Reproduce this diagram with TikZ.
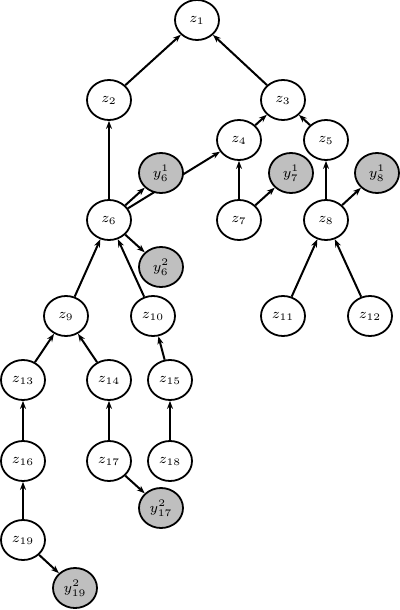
\documentclass[tikz,border=0pt]{standalone}
\usetikzlibrary{shapes.geometric,arrows.meta}
\pgfdeclarelayer{bg}
\pgfsetlayers{bg,main}
\begin{document}
\begin{tikzpicture}[x=0.5pt,y=-0.5pt,
  hid/.style={ellipse,draw,line width=0.9pt,fill=white,minimum width=22pt,minimum height=20pt,inner sep=0pt,font=\fontsize{7}{8}\selectfont},
  obs/.style={hid,fill=black!25},
  edge/.style={line width=1pt,-{Stealth[length=4pt,width=3pt]}}]
\useasboundingbox (0,0) rectangle (400,610);
\node[hid] (z1) at (197,20) {$z_1$};
\node[hid] (z2) at (109,100) {$z_2$};
\node[hid] (z3) at (283,100) {$z_3$};
\node[hid] (z4) at (239,140) {$z_4$};
\node[hid] (z5) at (326,140) {$z_5$};
\node[obs] (y61) at (161,173) {$y_6^1$};
\node[obs] (y71) at (291,173) {$y_7^1$};
\node[obs] (y81) at (377,173) {$y_8^1$};
\node[hid] (z6) at (109,220) {$z_6$};
\node[hid] (z7) at (239,220) {$z_7$};
\node[hid] (z8) at (326,220) {$z_8$};
\node[obs] (y62) at (161,267) {$y_6^2$};
\node[hid] (z9) at (66,316) {$z_9$};
\node[hid] (z10) at (153,316) {$z_{10}$};
\node[hid] (z11) at (283,316) {$z_{11}$};
\node[hid] (z12) at (370,316) {$z_{12}$};
\node[hid] (z13) at (23,380) {$z_{13}$};
\node[hid] (z14) at (109,380) {$z_{14}$};
\node[hid] (z15) at (170,380) {$z_{15}$};
\node[hid] (z16) at (23,461) {$z_{16}$};
\node[hid] (z17) at (109,461) {$z_{17}$};
\node[hid] (z18) at (170,461) {$z_{18}$};
\node[obs] (y172) at (161,508) {$y_{17}^2$};
\node[hid] (z19) at (23,540) {$z_{19}$};
\node[obs] (y192) at (75,588) {$y_{19}^2$};
\begin{pgfonlayer}{bg}
\draw[edge] (z2) -- (z1);
\draw[edge] (z3) -- (z1);
\draw[edge] (z4) -- (z3);
\draw[edge] (z5) -- (z3);
\draw[edge] (z6) -- (z2);
\draw[edge] (z6) -- (z4);
\draw[edge] (z6) -- (y61);
\draw[edge] (z6) -- (y62);
\draw[edge] (z7) -- (z4);
\draw[edge] (z7) -- (y71);
\draw[edge] (z8) -- (z5);
\draw[edge] (z8) -- (y81);
\draw[edge] (z11) -- (z8);
\draw[edge] (z12) -- (z8);
\draw[edge] (z9) -- (z6);
\draw[edge] (z10) -- (z6);
\draw[edge] (z13) -- (z9);
\draw[edge] (z14) -- (z9);
\draw[edge] (z15) -- (z10);
\draw[edge] (z16) -- (z13);
\draw[edge] (z17) -- (z14);
\draw[edge] (z18) -- (z15);
\draw[edge] (z17) -- (y172);
\draw[edge] (z19) -- (z16);
\draw[edge] (z19) -- (y192);
\end{pgfonlayer}
\end{tikzpicture}
\end{document}
